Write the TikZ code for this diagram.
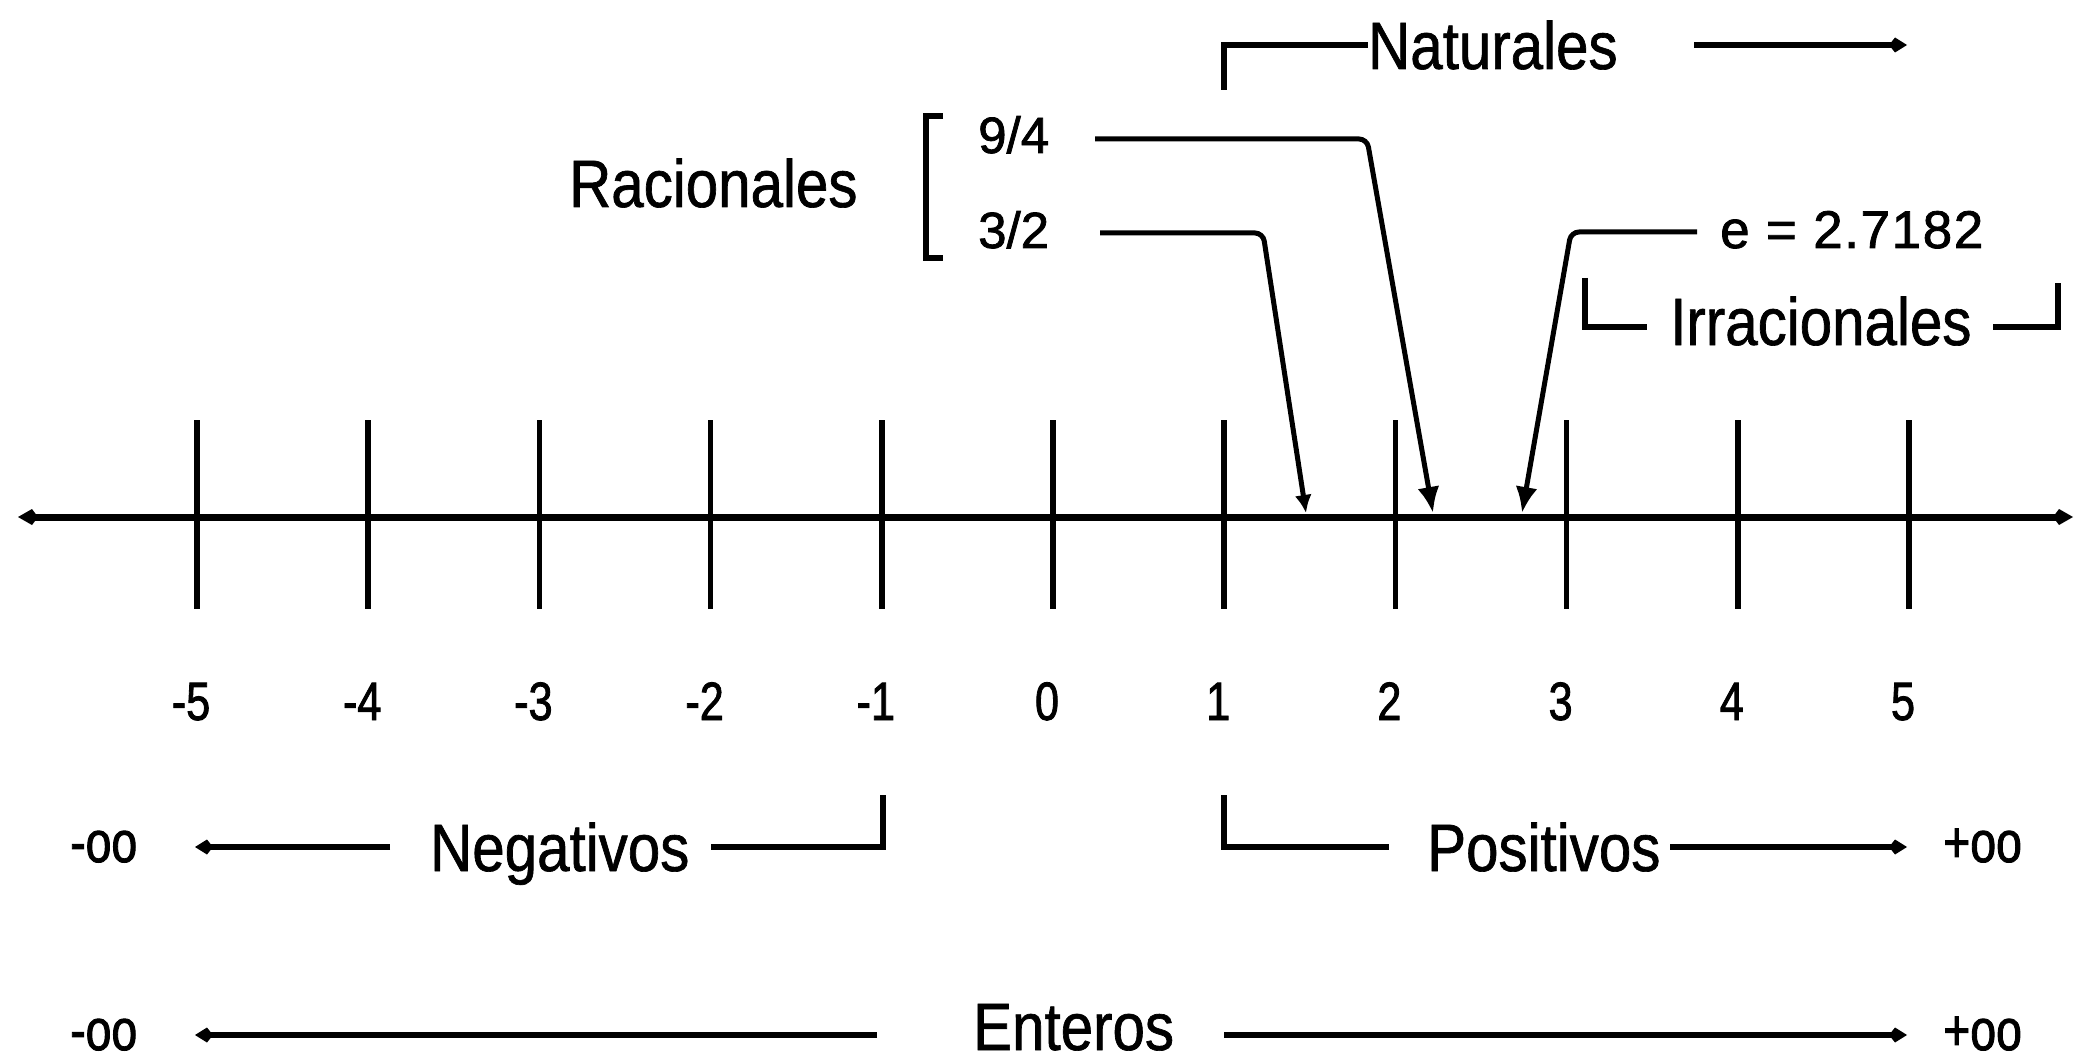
\documentclass[tikz,border=0pt]{standalone}
\usepackage{fontspec}
\setmainfont{Liberation Sans}
\newfontfamily\labf[FakeStretch=0.87,FakeBold=1]{Liberation Sans}
\newfontfamily\tickf[FakeStretch=0.8,FakeBold=1.5]{Liberation Sans}
\newfontfamily\fracf[FakeBold=1.5]{Liberation Sans}
\newfontfamily\ef[LetterSpace=3,FakeBold=1.5]{Liberation Sans}
\usetikzlibrary{arrows.meta}
\begin{document}
\begin{tikzpicture}[x=1pt,y=-1pt,
  big/.style={font=\labf\fontsize{67}{67}\selectfont, inner sep=0pt, anchor=base west},
  ticklab/.style={font=\tickf\fontsize{54}{54}\selectfont, inner sep=0pt, anchor=base},
  fractext/.style={font=\fracf\fontsize{51}{51}\selectfont, inner sep=0pt, anchor=base west},
  etext/.style={font=\ef\fontsize{53}{53}\selectfont, inner sep=0pt, anchor=base west},
  inftext/.style={font=\tickf\fontsize{58}{58}\selectfont, inner sep=0pt, anchor=base west},
  axisline/.style={line width=7pt},
  tickline/.style={line width=5.5pt},
  brk/.style={line width=5.5pt},
  pointer/.style={line width=5pt, rounded corners=8pt, -{Latex[length=26pt,width=22pt]}},
  smallpointer/.style={line width=5pt, rounded corners=8pt, -{Latex[length=18pt,width=17pt]}},
  dotarrow/.style={line width=5.5pt, -{Kite[length=18pt,width=15pt,inset=6pt]}}
]
\useasboundingbox (0,0) rectangle (2075,1059);

% axis
\coordinate (axL) at (18,517);
\coordinate (axR) at (2073,517);
\draw[axisline, {Kite[length=20pt,width=16pt,inset=6pt]}-{Kite[length=20pt,width=16pt,inset=6pt]}] (axL) -- (axR);

% ticks and labels
\foreach \k [count=\i] in {-5,...,5} {
  \coordinate (tt\i) at ({1053+171.2*\k},420);
  \coordinate (tb\i) at ({1053+171.2*\k},609);
  \draw[tickline] (tt\i) -- (tb\i);
  \node[ticklab] (lab\i) at ({1047+171.2*\k},720) {\k};
}

% Naturales
\node[big] (nat) at (1368,69) {Naturales};
\coordinate (natL) at (1224,90);
\coordinate (natA) at (1694,45);
\coordinate (natB) at (1907,45);
\draw[brk] (natL) |- (nat.west);
\draw[dotarrow] (natA) -- (natB);

% Racionales
\node[big] (rac) at (569,207) {Racionales};
\draw[brk] (943,116) -- (926,116) -- (926,258) -- (943,258);
\node[fractext] (n94) at (978,153) {9/4};
\node[fractext] (n32) at (978,248) {3/2};
\coordinate (p94a) at (1095,139);
\coordinate (p94b) at (1367,139);
\coordinate (p94c) at (1433,513);
\draw[pointer] (p94a) -- (p94b) -- (p94c);
\coordinate (p32a) at (1100,233);
\coordinate (p32b) at (1263,233);
\coordinate (p32c) at (1306,513);
\draw[smallpointer] (p32a) -- (p32b) -- (p32c);

% Irracionales
\node[etext] (ne) at (1720,248) {e = 2.7182};
\coordinate (pea) at (1697,232);
\coordinate (peb) at (1571,232);
\coordinate (pec) at (1522,513);
\draw[pointer] (pea) -- (peb) -- (pec);
\node[big] (irr) at (1670,345) {Irracionales};
\draw[brk] (1585,278) |- (1647,327);
\draw[brk] (1993,327) -| (2058,283);

% Negativos / Positivos
\node[inftext] (mi1) at (70,862) {-oo};
\node[big] (neg) at (430,871) {Negativos};
\draw[dotarrow] (390,847) -- (195,847);
\draw[brk] (711,847) -| (883,795);
\node[big] (pos) at (1427,871) {Positivos};
\draw[brk] (1224,795) |- (1389,847);
\draw[dotarrow] (1670,847) -- (1907,847);
\node[inftext] (pi1) at (1943,862) {+oo};

% Enteros
\node[inftext] (mi2) at (70,1050) {-oo};
\node[big] (ent) at (973,1050) {Enteros};
\draw[dotarrow] (877,1035) -- (195,1035);
\draw[dotarrow] (1224,1035) -- (1907,1035);
\node[inftext] (pi2) at (1943,1050) {+oo};
\end{tikzpicture}
\end{document}
